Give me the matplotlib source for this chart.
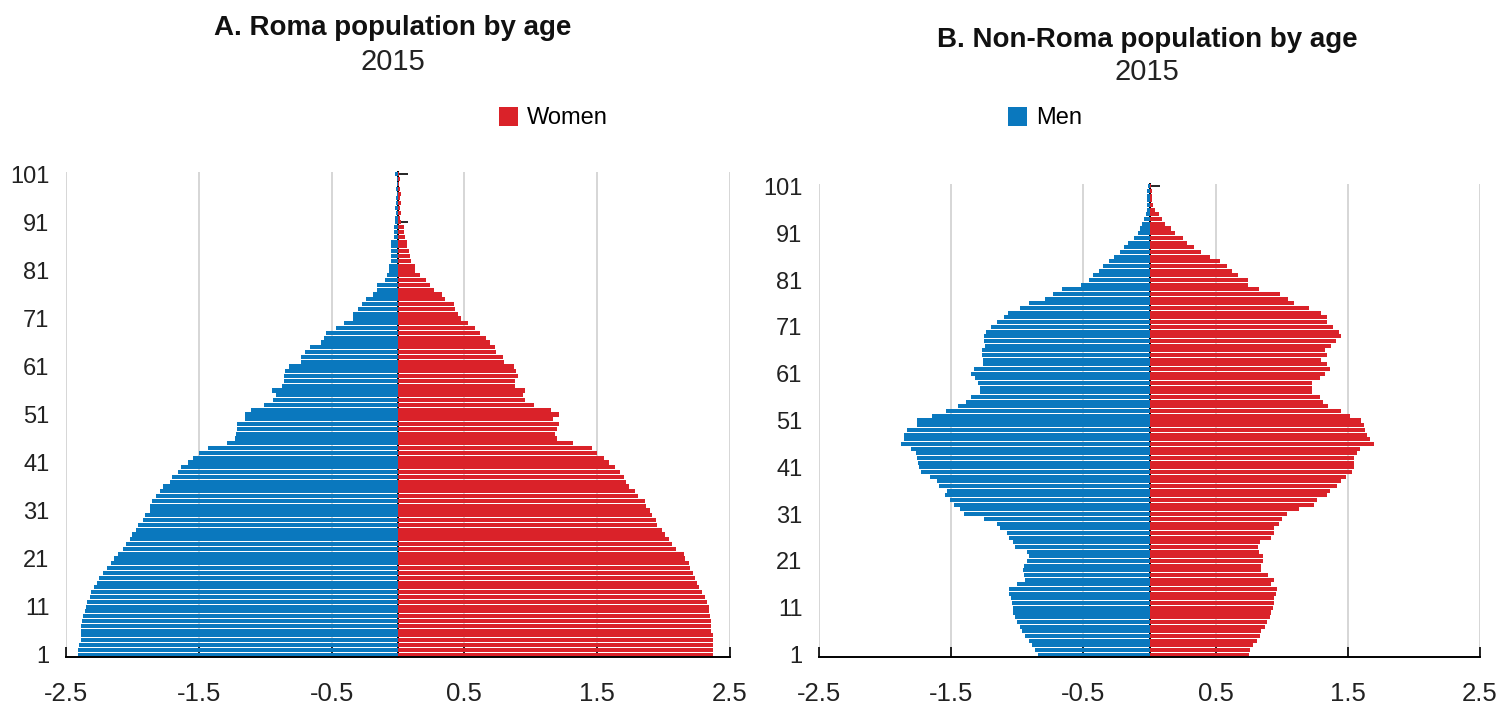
import matplotlib
matplotlib.use("Agg")
import matplotlib.pyplot as plt

plt.rcParams['font.family'] = ['Liberation Sans Narrow', 'Liberation Sans', 'DejaVu Sans']

ages = list(range(1, 102))
age_ticks = list(range(1, 102, 10))
x_ticks = [-2.5, -1.5, -0.5, 0.5, 1.5, 2.5]
x_ticklabels = ["-2.5", "-1.5", "-0.5", "0.5", "1.5", "2.5"]

roma_men = [
    -2.41, -2.41, -2.40, -2.39, -2.39, -2.39, -2.385, -2.38, -2.37, -2.36,
    -2.35, -2.34, -2.32, -2.31, -2.29, -2.27, -2.25, -2.22, -2.19, -2.16,
    -2.14, -2.11, -2.07, -2.05, -2.02, -2.00, -1.97, -1.96, -1.92, -1.905,
    -1.87, -1.87, -1.85, -1.82, -1.79, -1.77, -1.72, -1.70, -1.66, -1.635,
    -1.58, -1.54, -1.50, -1.43, -1.29, -1.23, -1.22, -1.21, -1.21, -1.15,
    -1.15, -1.11, -1.01, -0.94, -0.92, -0.95, -0.87, -0.86, -0.86, -0.85,
    -0.82, -0.73, -0.73, -0.70, -0.66, -0.58, -0.56, -0.545, -0.47, -0.41,
    -0.34, -0.34, -0.30, -0.27, -0.24, -0.19, -0.16, -0.16, -0.10, -0.08,
    -0.07, -0.07, -0.05, -0.05, -0.05, -0.05, -0.05, -0.03, -0.03, -0.03,
    -0.02, -0.02, -0.015, -0.02, -0.015, -0.015, -0.01, -0.015, -0.01, -0.01,
    -0.02,
]
roma_women = [
    2.375, 2.375, 2.375, 2.37, 2.37, 2.36, 2.36, 2.36, 2.35, 2.34,
    2.34, 2.325, 2.31, 2.29, 2.27, 2.25, 2.24, 2.22, 2.20, 2.19,
    2.16, 2.15, 2.09, 2.06, 2.04, 2.01, 1.99, 1.95, 1.94, 1.91,
    1.90, 1.87, 1.86, 1.81, 1.785, 1.74, 1.72, 1.70, 1.67, 1.635,
    1.59, 1.55, 1.50, 1.46, 1.315, 1.20, 1.185, 1.20, 1.21, 1.17,
    1.21, 1.15, 1.026, 0.96, 0.945, 0.96, 0.88, 0.88, 0.90, 0.89,
    0.87, 0.80, 0.79, 0.74, 0.73, 0.695, 0.665, 0.62, 0.583, 0.525,
    0.475, 0.45, 0.43, 0.42, 0.357, 0.33, 0.27, 0.24, 0.214, 0.165,
    0.13, 0.13, 0.095, 0.094, 0.08, 0.07, 0.07, 0.055, 0.045, 0.045,
    0.02, 0.015, 0.02, 0.015, 0.02, 0.015, 0.02, 0.015, 0.01, 0.015,
    0.01,
]
nonroma_men = [
    -0.84, -0.865, -0.89, -0.915, -0.94, -0.965, -0.98, -1.0, -1.015, -1.03,
    -1.035, -1.04, -1.05, -1.06, -1.065, -1.0, -0.94, -0.95, -0.955, -0.95,
    -0.93, -0.91, -0.93, -1.015, -1.03, -1.06, -1.08, -1.13, -1.15, -1.25,
    -1.40, -1.43, -1.48, -1.51, -1.545, -1.53, -1.59, -1.61, -1.66, -1.73,
    -1.74, -1.75, -1.755, -1.765, -1.805, -1.88, -1.855, -1.855, -1.835, -1.76,
    -1.76, -1.645, -1.54, -1.445, -1.39, -1.35, -1.28, -1.28, -1.30, -1.32,
    -1.35, -1.33, -1.26, -1.26, -1.27, -1.27, -1.245, -1.25, -1.25, -1.235,
    -1.20, -1.15, -1.10, -1.07, -0.98, -0.91, -0.79, -0.73, -0.66, -0.52,
    -0.46, -0.43, -0.38, -0.35, -0.31, -0.27, -0.22, -0.195, -0.16, -0.12,
    -0.09, -0.07, -0.055, -0.04, -0.03, -0.02, -0.02, -0.02, -0.02, -0.02,
    -0.01,
]
nonroma_women = [
    0.75, 0.76, 0.785, 0.81, 0.835, 0.846, 0.87, 0.89, 0.91, 0.917,
    0.935, 0.94, 0.94, 0.955, 0.967, 0.917, 0.94, 0.90, 0.846, 0.846,
    0.86, 0.86, 0.825, 0.82, 0.835, 0.917, 0.94, 0.94, 0.98, 1.00,
    1.04, 1.13, 1.245, 1.27, 1.345, 1.365, 1.42, 1.45, 1.485, 1.53,
    1.545, 1.55, 1.55, 1.57, 1.59, 1.70, 1.67, 1.645, 1.63, 1.62,
    1.60, 1.52, 1.45, 1.35, 1.315, 1.29, 1.23, 1.23, 1.23, 1.29,
    1.325, 1.365, 1.345, 1.30, 1.345, 1.33, 1.37, 1.41, 1.45, 1.435,
    1.385, 1.34, 1.34, 1.30, 1.21, 1.09, 1.05, 0.99, 0.83, 0.745,
    0.745, 0.67, 0.625, 0.59, 0.53, 0.457, 0.39, 0.335, 0.285, 0.25,
    0.195, 0.16, 0.12, 0.095, 0.07, 0.045, 0.03, 0.02, 0.02, 0.02,
    0.013,
]

BLUE = '#0A78BE'
RED = '#DA2229'
GRID = '#D3D3D3'

W, H = 1503, 705
fig = plt.figure(figsize=(W / 100, H / 100), dpi=100)

def px_axes(x0, x1, ytop, ybot):
    return fig.add_axes([x0 / W, 1 - ybot / H, (x1 - x0) / W, (ybot - ytop) / H])

ax1 = px_axes(66, 730, 172, 657)
ax2 = px_axes(819, 1480, 184, 657)

handles = {}
for ax, men, women in [(ax1, roma_men, roma_women), (ax2, nonroma_men, nonroma_women)]:
    bm = ax.barh(ages, men, height=0.86, color=BLUE, linewidth=0, label='Men')
    bw = ax.barh(ages, women, height=0.86, color=RED, linewidth=0, label='Women')
    handles['Men'] = bm
    handles['Women'] = bw
    ax.set_xlim(-2.5, 2.5)
    ax.set_ylim(0.5, 101.5)
    ax.set_xticks(x_ticks)
    ax.set_xticklabels(x_ticklabels)
    ax.set_yticks(age_ticks)
    ax.set_yticklabels([str(a) for a in age_ticks])
    ax.set_axisbelow(True)
    ax.grid(axis='x', color=GRID, linewidth=1.3)
    ax.grid(axis='y', visible=False)
    for s in ['left', 'right', 'top']:
        ax.spines[s].set_visible(False)
    ax.spines['bottom'].set_linewidth(1.4)
    ax.spines['bottom'].set_color('black')
    ax.tick_params(axis='x', direction='in', length=7.5, width=1.2, color='black',
                   labelsize=18.5, pad=18, labelcolor='#222222')
    ax.tick_params(axis='y', length=0, labelsize=17, pad=12, labelcolor='#222222')
    sec = ax.secondary_yaxis(0.5)
    sec.set_yticks(age_ticks)
    sec.tick_params(axis='y', direction='out', length=7.5, width=1.2, color='black',
                    labelright=False, labelleft=False)
    for sp in sec.spines.values():
        sp.set_linewidth(1.4)

fig.text(393 / W, 1 - 28 / H, "A. Roma population by age", ha='center', va='center',
         fontsize=20, fontweight='bold', color='#111111')
fig.text(393 / W, 1 - 62 / H, "2015", ha='center', va='center', fontsize=21, color='#222222')
fig.text(1147 / W, 1 - 40 / H, "B. Non-Roma population by age", ha='center', va='center',
         fontsize=20, fontweight='bold', color='#111111')
fig.text(1147 / W, 1 - 72 / H, "2015", ha='center', va='center', fontsize=21, color='#222222')

leg1 = fig.legend([handles['Women']], ['Women'], loc='center left',
                  bbox_to_anchor=(499 / W, 1 - 118 / H), frameon=False, fontsize=17,
                  handlelength=0.8, handleheight=0.9, handletextpad=0.4, borderpad=0, borderaxespad=0)
leg2 = fig.legend([handles['Men']], ['Men'], loc='center left',
                  bbox_to_anchor=(1008 / W, 1 - 118 / H), frameon=False, fontsize=17,
                  handlelength=0.8, handleheight=0.9, handletextpad=0.4, borderpad=0, borderaxespad=0)

fig.savefig('out.png', dpi=100)
